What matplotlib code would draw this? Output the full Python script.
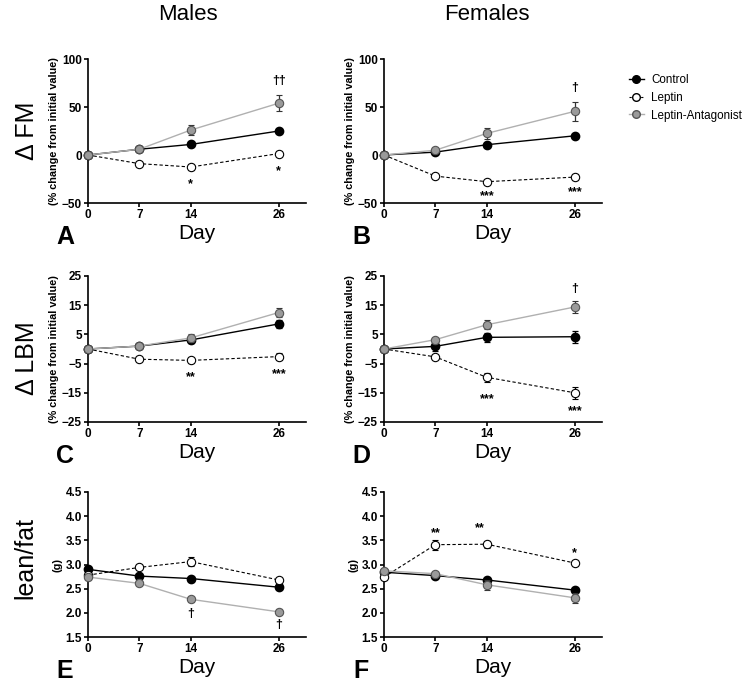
import numpy as np
import matplotlib
matplotlib.use("Agg")
from matplotlib import pyplot as plt
from matplotlib.lines import Line2D

plt.rcParams['font.family'] = ['Liberation Sans', 'DejaVu Sans']

days = [0, 7, 14, 26]

# panel data: (mean, sem) per group
fm_m_ctrl = [0, 6, 11, 25]
fm_m_ctrl_err = [0, 1, 1.5, 2]
fm_m_lep = [0, -9, -12.5, 1.5]
fm_m_lep_err = [0, 1.5, 3, 3]
fm_m_la = [0, 6, 26, 54]
fm_m_la_err = [0, 1.5, 5, 8]

fm_f_ctrl = [0, 3, 10.7, 20]
fm_f_ctrl_err = [0, 1, 1.5, 1.5]
fm_f_lep = [0, -22, -27.8, -23]
fm_f_lep_err = [0, 1.5, 1.5, 3]
fm_f_la = [0, 5, 22.5, 45.5]
fm_f_la_err = [0, 1.5, 6, 10]

lbm_m_ctrl = [0, 1, 3.1, 8.6]
lbm_m_ctrl_err = [0, 0.5, 1, 1.5]
lbm_m_lep = [0, -3.5, -3.9, -2.6]
lbm_m_lep_err = [0, 0.5, 0.8, 1.3]
lbm_m_la = [0, 1, 3.8, 12.5]
lbm_m_la_err = [0, 0.5, 1.5, 1.5]

lbm_f_ctrl = [0, 0.9, 4.0, 4.2]
lbm_f_ctrl_err = [0, 1.5, 1.5, 2]
lbm_f_lep = [0, -2.7, -9.7, -15]
lbm_f_lep_err = [0, 0.6, 1.5, 2]
lbm_f_la = [0, 3.2, 8.3, 14.4]
lbm_f_la_err = [0, 0.6, 1.5, 2]

lf_m_ctrl = [2.90, 2.76, 2.71, 2.53]
lf_m_ctrl_err = [0.05, 0.05, 0.03, 0.04]
lf_m_lep = [2.78, 2.94, 3.06, 2.68]
lf_m_lep_err = [0.04, 0.04, 0.10, 0.05]
lf_m_la = [2.74, 2.61, 2.28, 2.02]
lf_m_la_err = [0.05, 0.04, 0.05, 0.05]

lf_f_ctrl = [2.84, 2.77, 2.68, 2.47]
lf_f_ctrl_err = [0.04, 0.03, 0.05, 0.04]
lf_f_lep = [2.74, 3.41, 3.42, 3.03]
lf_f_lep_err = [0.04, 0.10, 0.07, 0.05]
lf_f_la = [2.87, 2.81, 2.58, 2.31]
lf_f_la_err = [0.04, 0.04, 0.10, 0.10]

# significance marks: (day, y, text)
sig_a = [(14, -26, '*'), (26, -12.5, '*'), (26, 77, '††')]
sig_b = [(14, -39, '***'), (26, -34.5, '***'), (26, 70, '†')]
sig_c = [(14, -8.3, '**'), (26, -7.4, '***')]
sig_d = [(14, -15.7, '***'), (26, -20, '***'), (26, 20.4, '†')]
sig_e = [(14, 1.98, '†'), (26, 1.75, '†')]
sig_f = [(7, 3.73, '**'), (13, 3.84, '**'), (26, 3.32, '*')]

panels = [
    ('A', (fm_m_ctrl, fm_m_ctrl_err, fm_m_lep, fm_m_lep_err, fm_m_la, fm_m_la_err), (-50, 100), [-50, 0, 50, 100], sig_a),
    ('B', (fm_f_ctrl, fm_f_ctrl_err, fm_f_lep, fm_f_lep_err, fm_f_la, fm_f_la_err), (-50, 100), [-50, 0, 50, 100], sig_b),
    ('C', (lbm_m_ctrl, lbm_m_ctrl_err, lbm_m_lep, lbm_m_lep_err, lbm_m_la, lbm_m_la_err), (-25, 25), [-25, -15, -5, 5, 15, 25], sig_c),
    ('D', (lbm_f_ctrl, lbm_f_ctrl_err, lbm_f_lep, lbm_f_lep_err, lbm_f_la, lbm_f_la_err), (-25, 25), [-25, -15, -5, 5, 15, 25], sig_d),
    ('E', (lf_m_ctrl, lf_m_ctrl_err, lf_m_lep, lf_m_lep_err, lf_m_la, lf_m_la_err), (1.5, 4.5), [1.5, 2.0, 2.5, 3.0, 3.5, 4.0, 4.5], sig_e),
    ('F', (lf_f_ctrl, lf_f_ctrl_err, lf_f_lep, lf_f_lep_err, lf_f_la, lf_f_la_err), (1.5, 4.5), [1.5, 2.0, 2.5, 3.0, 3.5, 4.0, 4.5], sig_f),
]

W, H = 754, 688
fig = plt.figure(figsize=(W / 100, H / 100), dpi=100)

lefts = [88, 384]
tops = [59, 276, 492]
bottoms = [203, 422, 637]
ax_w = 218

grey = '#9a9a9a'
eb = dict(ms=6, elinewidth=0.9, capsize=2.5, capthick=0.9, clip_on=False)
for i, (letter, d, ylim, yticks, sig) in enumerate(panels):
    r, c = divmod(i, 2)
    ax = fig.add_axes([lefts[c] / W, 1 - bottoms[r] / H, ax_w / W, (bottoms[r] - tops[r]) / H])
    ctrl, ctrl_e, lep, lep_e, la, la_e = d
    ax.errorbar(days, ctrl, yerr=ctrl_e, color='black', lw=1, marker='o',
                mfc='black', mec='black', ecolor='black', zorder=3, **eb)
    ax.errorbar(days, lep, yerr=lep_e, color='black', lw=0.8, ls=(0, (3, 2)), marker='o',
                mfc='white', mec='black', mew=0.8, ecolor='black', zorder=4, **eb)
    ax.errorbar(days, la, yerr=la_e, color='#b0b0b0', lw=1, marker='o',
                mfc=grey, mec='#555555', mew=0.8, ecolor='#333333', zorder=5, **eb)
    for x, y, t in sig:
        dy = -4 if '*' in t else 0
        ax.annotate(t, (x, y), xytext=(0, dy), textcoords='offset pixels',
                    ha='center', va='center', fontsize=9, fontweight='bold')
    ax.set_xlim(0, 29.7)
    ax.set_ylim(*ylim)
    ax.set_xticks(days)
    ax.set_yticks(yticks)
    if i >= 4:
        ax.set_yticklabels(['%.1f' % v for v in yticks])
    for lab in ax.get_xticklabels() + ax.get_yticklabels():
        lab.set_fontweight('bold')
    ax.tick_params(labelsize=8.5, length=3, width=1.2, pad=1.5)
    for s in ['top', 'right']:
        ax.spines[s].set_visible(False)
    for s in ['left', 'bottom']:
        ax.spines[s].set_linewidth(1.2)
    ax.set_xlabel('Day', fontsize=15, labelpad=2)
    if i < 4:
        ax.set_ylabel('(% change from initial value)', fontsize=7.8, fontweight='bold', labelpad=2)
    else:
        ax.set_ylabel('(g)', fontsize=7.8, fontweight='bold', labelpad=2)
    fig.text((lefts[c] - 23) / W, 1 - (bottoms[r] + 34) / H, letter, fontsize=18,
             fontweight='bold', ha='center', va='center')

fig.text(188 / W, 1 - 15 / H, 'Males', fontsize=16, ha='center', va='center')
fig.text(487 / W, 1 - 15 / H, 'Females', fontsize=16, ha='center', va='center')
fig.text(27 / W, 1 - 131 / H, 'Δ FM', fontsize=18, rotation=90, ha='center', va='center')
fig.text(27 / W, 1 - 358 / H, 'Δ LBM', fontsize=18, rotation=90, ha='center', va='center')
fig.text(25 / W, 1 - 558 / H, 'lean/fat', fontsize=18, rotation=90, ha='center', va='center')

handles = [
    Line2D([], [], color='black', lw=1, marker='o', ms=5.5, mfc='black', mec='black'),
    Line2D([], [], color='black', lw=0.8, ls=(0, (2, 1.5)), marker='o', ms=5.5, mfc='white', mec='black'),
    Line2D([], [], color='#b0b0b0', lw=1, marker='o', ms=5.5, mfc=grey, mec='#555555'),
]
fig.legend(handles, ['Control', 'Leptin', 'Leptin-Antagonist'], loc='upper left',
           bbox_to_anchor=(623 / W, 1 - 68 / H), frameon=False, fontsize=8.4,
           handlelength=1.3, handletextpad=0.6, labelspacing=0.5, borderpad=0)

fig.savefig('out.png', dpi=100)
